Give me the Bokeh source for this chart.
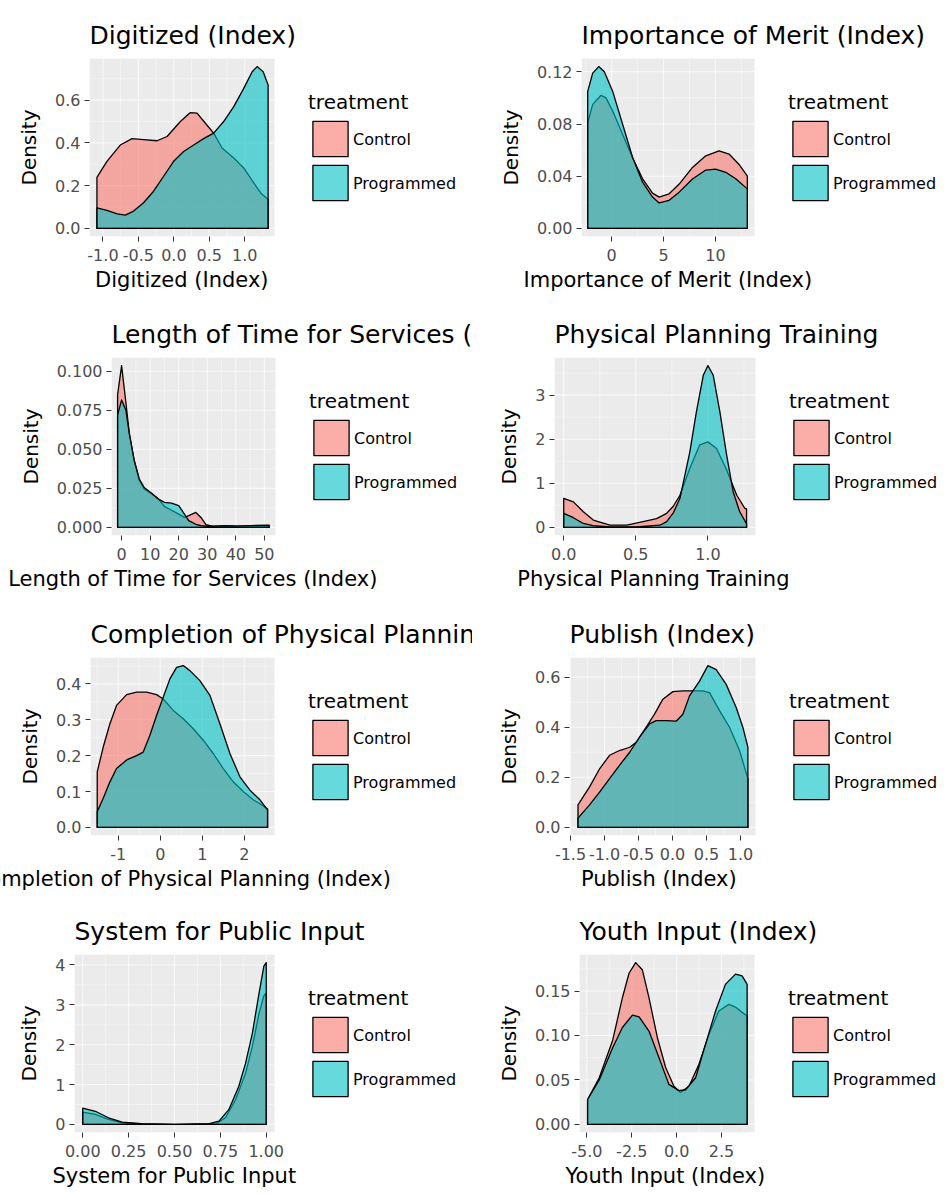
from bokeh.plotting import figure
from bokeh.models import Range1d, FixedTicker, NumeralTickFormatter, Legend, LegendItem, Title
from bokeh.layouts import column, row
from bokeh.embed import file_html
from bokeh.resources import INLINE

FONT = "DejaVu Sans"
GROUPS = ["Control", "Programmed"]
GROUP_COLORS = ["#F8766D", "#00BFC4"]
ALPHA = 0.6
PANEL_BG = "#EBEBEB"

# ---------------- data ----------------
# 1. Digitized (Index)
digitized_ctrl_x = [-1.085, -0.944, -0.756, -0.59, -0.427, -0.237, -0.096, 0.092, 0.233, 0.327, 0.445, 0.562, 0.68, 0.845, 0.986, 1.127, 1.225, 1.33]
digitized_ctrl_y = [0.239, 0.314, 0.39, 0.42, 0.415, 0.41, 0.43, 0.50, 0.542, 0.539, 0.492, 0.446, 0.376, 0.329, 0.283, 0.213, 0.166, 0.135]
digitized_prog_x = [-1.085, -0.944, -0.80, -0.685, -0.567, -0.427, -0.286, -0.144, -0.003, 0.138, 0.28, 0.42, 0.562, 0.703, 0.845, 0.986, 1.105, 1.175, 1.26, 1.33]
digitized_prog_y = [0.096, 0.084, 0.068, 0.062, 0.081, 0.12, 0.174, 0.244, 0.314, 0.36, 0.39, 0.42, 0.446, 0.50, 0.57, 0.655, 0.733, 0.757, 0.733, 0.671]
digitized_xticks = [-1.0, -0.5, 0.0, 0.5, 1.0]
digitized_yticks = [0.0, 0.2, 0.4, 0.6]

# 2. Importance of Merit (Index)
merit_ctrl_x = [-2.31, -1.83, -1.03, -0.55, 0.1, 1.06, 2.02, 2.98, 3.94, 4.58, 5.54, 6.51, 7.79, 9.07, 10.35, 11.32, 12.28, 13.08]
merit_ctrl_y = [0.081, 0.095, 0.102, 0.100, 0.090, 0.072, 0.054, 0.038, 0.027, 0.024, 0.0265, 0.034, 0.0467, 0.0556, 0.0594, 0.057, 0.049, 0.040]
merit_prog_x = [-2.31, -1.83, -1.25, -0.71, 0.1, 1.06, 2.02, 2.98, 3.94, 4.58, 5.54, 6.51, 7.79, 9.07, 10.03, 11.0, 11.96, 13.08]
merit_prog_y = [0.105, 0.119, 0.124, 0.120, 0.105, 0.0796, 0.0543, 0.0354, 0.024, 0.0195, 0.0215, 0.0278, 0.0379, 0.0447, 0.0455, 0.043, 0.038, 0.0303]
merit_xticks = [0, 5, 10]
merit_yticks = [0.00, 0.04, 0.08, 0.12]

# 3. Length of Time for Services (Index)
services_x = [-1.4, 0, 1.5, 2.7, 4.4, 6.2, 7.9, 10.3, 12.6, 15, 17.5, 20, 22, 23.5, 26, 27.8, 29.6, 32, 36, 40, 45, 51.7]
services_ctrl_y = [0.085, 0.1036, 0.08, 0.06, 0.043, 0.030, 0.0246, 0.0218, 0.0188, 0.0135, 0.011, 0.0085, 0.0064, 0.0075, 0.0096, 0.0064, 0.0017, 0.0006, 0.0008, 0.0005, 0.0004, 0.0006]
services_prog_y = [0.072, 0.0816, 0.075, 0.06, 0.043, 0.031, 0.0256, 0.0222, 0.0185, 0.016, 0.0155, 0.014, 0.0085, 0.0043, 0.002, 0.0012, 0.0008, 0.0008, 0.0012, 0.001, 0.0012, 0.0015]
services_xticks = [0, 10, 20, 30, 40, 50]
services_yticks = [0.0, 0.025, 0.05, 0.075, 0.1]

# 4. Physical Planning Training
training_ctrl_x = [0, 0.067, 0.136, 0.205, 0.32, 0.436, 0.55, 0.644, 0.714, 0.76, 0.806, 0.875, 0.943, 1.0, 1.06, 1.13, 1.2, 1.256, 1.268]
training_ctrl_y = [0.66, 0.58, 0.355, 0.166, 0.053, 0.053, 0.13, 0.2, 0.32, 0.48, 0.73, 1.34, 1.87, 1.94, 1.79, 1.3, 0.73, 0.43, 0.42]
training_prog_x = [0, 0.067, 0.136, 0.205, 0.32, 0.5, 0.667, 0.714, 0.76, 0.806, 0.875, 0.92, 0.968, 1.0, 1.037, 1.083, 1.13, 1.175, 1.22, 1.268]
training_prog_y = [0.32, 0.22, 0.09, 0.04, 0.01, 0.01, 0.05, 0.13, 0.33, 0.66, 1.72, 2.62, 3.45, 3.67, 3.45, 2.62, 1.64, 0.81, 0.36, 0.08]
training_xticks = [0.0, 0.5, 1.0]
training_yticks = [0, 1, 2, 3]

# 5. Completion of Physical Planning (Index)
completion_ctrl_x = [-1.5, -1.357, -1.198, -1.04, -0.80, -0.563, -0.325, -0.087, 0.071, 0.31, 0.548, 0.786, 1.024, 1.262, 1.5, 1.738, 1.976, 2.214, 2.413, 2.555]
completion_ctrl_y = [0.155, 0.224, 0.289, 0.34, 0.37, 0.377, 0.377, 0.37, 0.358, 0.326, 0.303, 0.275, 0.243, 0.206, 0.164, 0.127, 0.10, 0.077, 0.063, 0.051]
completion_prog_x = [-1.5, -1.357, -1.198, -1.04, -0.80, -0.563, -0.405, -0.246, -0.087, 0.071, 0.23, 0.389, 0.548, 0.706, 0.944, 1.183, 1.42, 1.659, 1.897, 2.135, 2.373, 2.555]
completion_prog_y = [0.044, 0.081, 0.127, 0.164, 0.188, 0.2, 0.21, 0.257, 0.312, 0.363, 0.414, 0.446, 0.451, 0.437, 0.409, 0.368, 0.289, 0.206, 0.141, 0.104, 0.077, 0.049]
completion_xticks = [-1, 0, 1, 2]
completion_yticks = [0.0, 0.1, 0.2, 0.3, 0.4]

# 6. Publish  (Index)
publish_ctrl_x = [-1.39, -1.22, -1.07, -0.926, -0.78, -0.63, -0.534, -0.387, -0.265, -0.142, 0.005, 0.152, 0.299, 0.446, 0.544, 0.691, 0.838, 0.985, 1.108]
publish_ctrl_y = [0.09, 0.162, 0.235, 0.288, 0.307, 0.32, 0.34, 0.40, 0.452, 0.512, 0.542, 0.545, 0.545, 0.545, 0.538, 0.466, 0.40, 0.307, 0.195]
publish_prog_x = [-1.39, -1.22, -1.07, -0.926, -0.78, -0.63, -0.485, -0.338, -0.24, -0.093, 0.054, 0.152, 0.25, 0.397, 0.52, 0.642, 0.789, 0.936, 1.034, 1.108]
publish_prog_y = [0.037, 0.09, 0.142, 0.195, 0.248, 0.30, 0.36, 0.413, 0.426, 0.426, 0.424, 0.452, 0.525, 0.584, 0.646, 0.63, 0.571, 0.479, 0.40, 0.32]
publish_xticks = [-1.5, -1.0, -0.5, 0.0, 0.5, 1.0]
publish_yticks = [0.0, 0.2, 0.4, 0.6]

# 7. System for Public Input
system_ctrl_x = [0, 0.069, 0.14, 0.215, 0.32, 0.5, 0.724, 0.778, 0.833, 0.887, 0.924, 0.96, 0.987, 1.0]
system_ctrl_y = [0.31, 0.25, 0.124, 0.04, 0.01, 0.0, 0.01, 0.166, 0.62, 1.28, 1.95, 2.77, 3.23, 3.29]
system_prog_x = [0, 0.069, 0.14, 0.215, 0.32, 0.5, 0.69, 0.742, 0.796, 0.85, 0.887, 0.924, 0.96, 0.987, 1.0]
system_prog_y = [0.41, 0.33, 0.166, 0.058, 0.017, 0.0, 0.017, 0.083, 0.37, 0.95, 1.53, 2.28, 3.27, 3.97, 4.06]
system_xticks = [0.0, 0.25, 0.5, 0.75, 1.0]
system_yticks = [0, 1, 2, 3, 4]

# 8. Youth Input (Index)
youth_ctrl_x = [-4.96, -4.31, -3.57, -3.02, -2.65, -2.28, -1.91, -1.54, -1.07, -0.61, -0.15, 0.22, 0.69, 1.24, 1.80, 2.35, 2.91, 3.28, 3.65, 3.93]
youth_ctrl_y = [0.028, 0.0525, 0.094, 0.1425, 0.17, 0.182, 0.174, 0.1425, 0.0975, 0.064, 0.043, 0.036, 0.043, 0.0675, 0.101, 0.1275, 0.135, 0.132, 0.126, 0.122]
youth_prog_x = [-4.96, -4.31, -3.57, -3.02, -2.46, -2.09, -1.54, -0.98, -0.43, 0.13, 0.5, 1.06, 1.61, 2.17, 2.72, 3.28, 3.65, 3.93]
youth_prog_y = [0.028, 0.05, 0.086, 0.109, 0.123, 0.121, 0.105, 0.075, 0.045, 0.038, 0.039, 0.0525, 0.09, 0.1275, 0.1575, 0.169, 0.167, 0.1575]
youth_xticks = [-5.0, -2.5, 0.0, 2.5]
youth_yticks = [0.0, 0.05, 0.10, 0.15]

# ---------------- layout ----------------
FIG_W = 472
RIGHT_PAD = 2
ROW_H = [300, 300, 300, 294]
FRAME_TOP = [58, 57, 57, 54]
FRAME_H = 178
XLABEL_PX = 21

# approximate DejaVu Sans advance widths (em) used to centre the x label under the panel
CHAR_W = {' ': 0.318, '(': 0.390, ')': 0.390, 'C': 0.698, 'D': 0.770, 'I': 0.295, 'L': 0.557,
          'M': 0.863, 'P': 0.603, 'S': 0.635, 'T': 0.611, 'Y': 0.611, 'a': 0.613, 'b': 0.635,
          'c': 0.550, 'd': 0.635, 'e': 0.615, 'f': 0.352, 'g': 0.635, 'h': 0.634, 'i': 0.278,
          'l': 0.278, 'm': 0.974, 'n': 0.634, 'o': 0.612, 'p': 0.635, 'r': 0.411, 's': 0.521,
          't': 0.392, 'u': 0.634, 'v': 0.592, 'x': 0.592, 'y': 0.592, 'z': 0.525, 'k': 0.579}

panels = [
    # title, xlabel, ctrl_x, ctrl_y, prog_x, prog_y, xticks, yticks, xfmt, yfmt, panel x-range, frame_left, panel_w, row
    ("Digitized (Index)", "Digitized (Index)", digitized_ctrl_x, digitized_ctrl_y, digitized_prog_x, digitized_prog_y,
     digitized_xticks, digitized_yticks, "0.0", "0.0", (-1.19, 1.42), 89, 185, 0),
    ("Importance of Merit (Index)", "Importance of Merit (Index)", merit_ctrl_x, merit_ctrl_y, merit_prog_x, merit_prog_y,
     merit_xticks, merit_yticks, "0", "0.00", (-2.91, 13.77), 109, 173, 0),
    ("Length of Time for Services (Index)", "Length of Time for Services (Index)", services_x, services_ctrl_y, services_x, services_prog_y,
     services_xticks, services_yticks, "0", "0.000", (-3.54, 53.9), 111, 164, 1),
    ("Physical Planning Training", "Physical Planning Training", training_ctrl_x, training_ctrl_y, training_prog_x, training_prog_y,
     training_xticks, training_yticks, "0.0", "0", (-0.064, 1.33), 82, 201, 1),
    ("Completion of Physical Planning (Index)", "Completion of Physical Planning (Index)", completion_ctrl_x, completion_ctrl_y, completion_prog_x, completion_prog_y,
     completion_xticks, completion_yticks, "0", "0.0", (-1.66, 2.72), 90, 184, 2),
    ("Publish  (Index)", "Publish  (Index)", publish_ctrl_x, publish_ctrl_y, publish_prog_x, publish_prog_y,
     publish_xticks, publish_yticks, "0.0", "0.0", (-1.515, 1.22), 97, 186, 2),
    ("System for Public Input", "System for Public Input", system_ctrl_x, system_ctrl_y, system_prog_x, system_prog_y,
     system_xticks, system_yticks, "0.00", "0", (-0.045, 1.045), 74, 200, 3),
    ("Youth Input (Index)", "Youth Input (Index)", youth_ctrl_x, youth_ctrl_y, youth_prog_x, youth_prog_y,
     youth_xticks, youth_yticks, "0.0", "0.00", (-5.41, 4.34), 107, 175, 3),
]


def minor_of(ticks):
    step = ticks[1] - ticks[0]
    mids = [(a + b) / 2 for a, b in zip(ticks[:-1], ticks[1:])]
    return [ticks[0] - step / 2] + mids + [ticks[-1] + step / 2]


def closed(xs, ys):
    return [xs[0]] + list(xs) + [xs[-1]], [0] + list(ys) + [0]


def text_width(s, px):
    return sum(CHAR_W.get(ch, 0.6) for ch in s) * px


def make_panel(title, xlabel, cx, cy, px, py, xticks, yticks, xfmt, yfmt, xr, fl, fw, r):
    h = ROW_H[r]
    frame_w = FIG_W - RIGHT_PAD - fl
    xa, xb = xr
    x_end = xa + (xb - xa) * frame_w / fw          # frame continues right of the panel for the legend
    ymax = max(max(cy), max(py))
    ya, yb = -0.05 * ymax, 1.05 * ymax
    p = figure(width=FIG_W, height=h, output_backend="svg", toolbar_location=None,
               x_range=Range1d(xa, x_end), y_range=Range1d(ya, yb),
               min_border_left=fl, min_border_right=RIGHT_PAD,
               min_border_top=FRAME_TOP[r], min_border_bottom=h - FRAME_TOP[r] - FRAME_H,
               background_fill_color="white", border_fill_color="white",
               outline_line_color=None)
    p.grid.visible = False
    p.title.text = title
    p.title.align = "left"
    p.title.text_font = FONT
    p.title.text_font_size = "25px"
    p.title.text_font_style = "normal"
    p.title.text_color = "black"
    p.title.standoff = 18

    # grey panel + white grid lines (ggplot theme_grey look)
    p.quad(left=[xa], right=[xb], bottom=[ya], top=[yb], fill_color=PANEL_BG, line_color=None)
    xmin = [t for t in minor_of(xticks) if xa <= t <= xb]
    ymin = [t for t in minor_of(yticks) if ya <= t <= yb]
    for vals, lw in ((xmin, 0.6), (xticks, 1.1)):
        p.segment(x0=vals, x1=vals, y0=[ya] * len(vals), y1=[yb] * len(vals),
                  line_color="white", line_width=lw, line_alpha=0.7)
    for vals, lw in ((ymin, 0.6), (yticks, 1.1)):
        p.segment(x0=[xa] * len(vals), x1=[xb] * len(vals), y0=vals, y1=vals,
                  line_color="white", line_width=lw, line_alpha=0.7)

    renderers = []
    for (xs, ys), color in zip([(cx, cy), (px, py)], GROUP_COLORS):
        X, Y = closed(xs, ys)
        renderers.append(p.patch(X, Y, fill_color=color, fill_alpha=ALPHA,
                                 line_color="black", line_width=1.3, line_join="round"))

    p.xaxis.ticker = FixedTicker(ticks=xticks)
    p.yaxis.ticker = FixedTicker(ticks=yticks)
    p.xaxis.bounds = (xa, xb)
    p.xaxis.formatter = NumeralTickFormatter(format=xfmt)
    p.yaxis.formatter = NumeralTickFormatter(format=yfmt)
    p.yaxis.axis_label = "Density"

    p.axis.axis_line_color = None
    p.axis.major_tick_line_color = "#333333"
    p.axis.major_tick_in = 0
    p.axis.major_tick_out = 5
    p.axis.minor_tick_line_color = None
    p.axis.major_label_text_font = FONT
    p.axis.major_label_text_font_size = "16px"
    p.axis.major_label_text_color = "#4D4D4D"
    p.yaxis.axis_label_text_font = FONT
    p.yaxis.axis_label_text_font_size = "20px"
    p.yaxis.axis_label_text_font_style = "normal"
    p.yaxis.axis_label_text_color = "black"
    p.xaxis.major_label_standoff = 7
    p.yaxis.major_label_standoff = 4
    p.yaxis.axis_label_standoff = 11

    # x-axis title, centred under the grey panel
    offset = fw / 2 - text_width(xlabel, XLABEL_PX) / 2
    p.add_layout(Title(text=xlabel, align="left", offset=offset, standoff=5,
                       text_font=FONT, text_font_size=f"{XLABEL_PX}px",
                       text_font_style="normal", text_color="black"), "below")

    legend = Legend(
        items=[LegendItem(label=g, renderers=[rr]) for g, rr in zip(GROUPS, renderers)],
        title="treatment", location="center_left", orientation="vertical",
        glyph_width=44, glyph_height=44, spacing=-9, padding=0, margin=fw + 34,
        label_standoff=1, title_standoff=3,
        label_text_font=FONT, label_text_font_size="16px", label_text_color="black",
        title_text_font=FONT, title_text_font_size="20px", title_text_font_style="normal",
        title_text_color="black",
        background_fill_alpha=0, border_line_alpha=0)
    p.add_layout(legend)
    return p


figs = [make_panel(*spec) for spec in panels]
layout = column(row(figs[0], figs[1]), row(figs[2], figs[3]),
                row(figs[4], figs[5]), row(figs[6], figs[7]))

open("out.html", "w").write(file_html(layout, INLINE))
